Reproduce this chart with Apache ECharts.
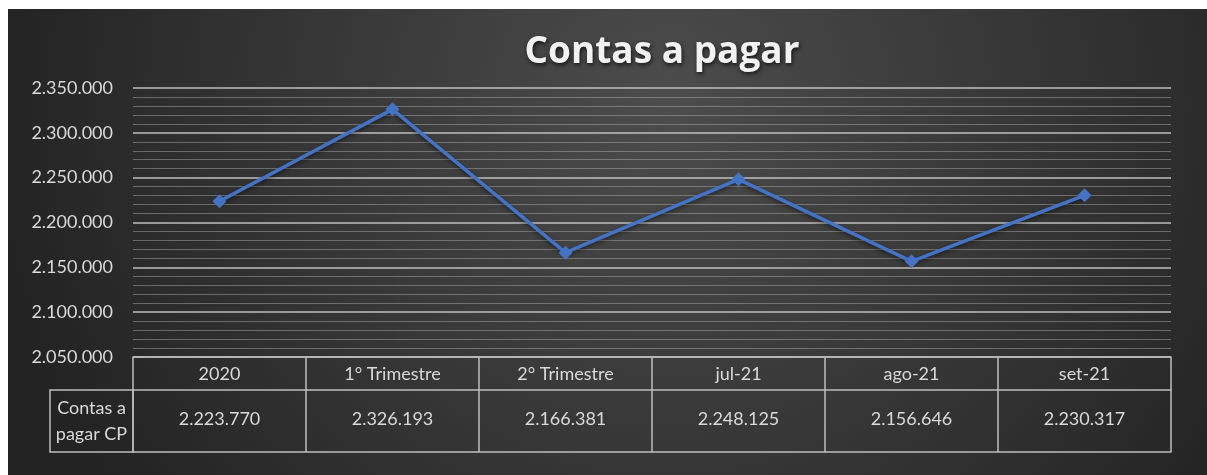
<!DOCTYPE html>
<html>
<head>
<meta charset="utf-8">
<script src="https://cdn.jsdelivr.net/npm/echarts@6/dist/echarts.min.js"></script>
<style>
  html, body { margin: 0; padding: 0; background: #ffffff; }
  #main { position: absolute; left: 8px; top: 9px; width: 1199px; height: 466px; }
</style>
</head>
<body>
<div id="main"></div>
<script>
const categories = ['2020', '1° Trimestre', '2° Trimestre', 'jul-21', 'ago-21', 'set-21'];
const values = [2223770, 2326193, 2166381, 2248125, 2156646, 2230317];
const seriesName = 'Contas a\npagar CP';
const yTicks = { min: 2050000, max: 2350000, step: 50000 };

// 2.223.770 style
function fmt(v) {
  return String(v).replace(/\B(?=(\d{3})+(?!\d))/g, '.');
}

const font = 'Lato, "Open Sans", sans-serif';
const textColor = '#d9d9d9';
const borderColor = '#bdbdbd';

const chart = echarts.init(document.getElementById('main'));

const option = {
  backgroundColor: new echarts.graphic.RadialGradient(0.55, 0.2, 1.45, [
    { offset: 0, color: '#4c4c4c' },
    { offset: 1, color: '#232323' }
  ]),
  title: {
    text: 'Contas a pagar',
    left: 649,
    textAlign: 'center',
    top: 20,
    textStyle: {
      fontFamily: '"Open Sans", sans-serif',
      fontSize: 37,
      fontWeight: 'bold',
      color: '#f2f2f2',
      textShadowColor: 'rgba(0,0,0,0.7)',
      textShadowBlur: 4,
      textShadowOffsetX: 1,
      textShadowOffsetY: 2
    }
  },
  grid: { left: 125, right: 36, top: 79, bottom: 118 },
  xAxis: [
    {
      type: 'category',
      data: categories,
      position: 'bottom',
      boundaryGap: true,
      axisLine: { show: true, lineStyle: { color: borderColor, width: 1.5 } },
      axisTick: { show: true, interval: 0, alignWithLabel: false, length: 95, lineStyle: { color: borderColor, width: 1.5 } },
      axisLabel: { interval: 0, margin: 8, color: textColor, fontFamily: font, fontSize: 18 }
    },
    {
      type: 'category',
      data: values.map(fmt),
      position: 'bottom',
      offset: 33,
      axisLine: { show: true, lineStyle: { color: borderColor, width: 1.5 } },
      axisTick: { show: false },
      axisLabel: { interval: 0, margin: 20, color: textColor, fontFamily: font, fontSize: 18 }
    },
    {
      type: 'category',
      data: categories,
      position: 'bottom',
      offset: 95,
      axisLine: { show: true, lineStyle: { color: borderColor, width: 1.5 } },
      axisTick: { show: false },
      axisLabel: { show: false }
    }
  ],
  yAxis: {
    type: 'value',
    min: yTicks.min,
    max: yTicks.max,
    interval: yTicks.step,
    axisLine: { show: false },
    axisTick: { show: false },
    axisLabel: {
      margin: 20,
      color: textColor,
      fontFamily: font,
      fontSize: 18,
      formatter: v => fmt(v)
    },
    splitLine: { show: true, lineStyle: { color: 'rgba(200,200,200,0.7)', width: 2 } },
    minorTick: { show: false, splitNumber: 5 },
    minorSplitLine: { show: true, lineStyle: { color: 'rgba(190,190,190,0.42)', width: 1 } }
  },
  graphic: [
    {
      type: 'rect',
      shape: { x: 42, y: 381, width: 83, height: 62 },
      style: { fill: 'transparent', stroke: borderColor, lineWidth: 1.5 }
    },
    {
      type: 'text',
      x: 83.5,
      y: 412,
      style: {
        text: seriesName,
        fill: textColor,
        font: '18px ' + font,
        align: 'center',
        verticalAlign: 'middle',
        lineHeight: 26
      }
    }
  ],
  series: [
    {
      name: 'Contas a pagar CP',
      type: 'line',
      data: values,
      symbol: 'diamond',
      symbolSize: 14,
      lineStyle: {
        color: '#4472c4',
        width: 3.5,
        shadowColor: 'rgba(0,0,0,0.5)',
        shadowBlur: 4,
        shadowOffsetY: 2
      },
      itemStyle: { color: '#4472c4' },
      z: 5
    }
  ]
};

chart.setOption(option);
</script>
</body>
</html>
